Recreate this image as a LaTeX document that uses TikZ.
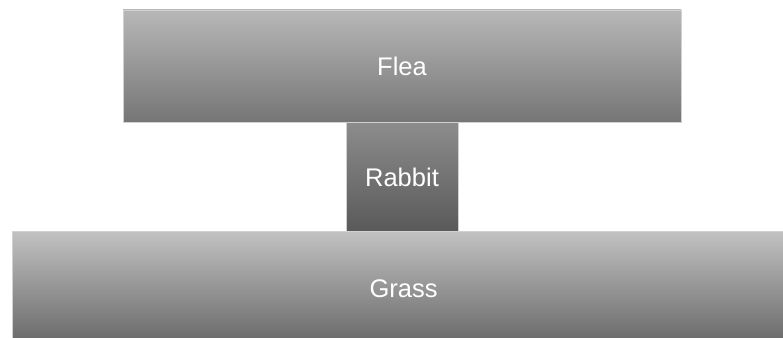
\documentclass[tikz,border=0pt]{standalone}
\usepackage{fontspec}
\setmainfont{Liberation Sans}
\begin{document}
\begin{tikzpicture}[x=1pt,y=-1pt,
  tier/.style={rectangle, draw=black!18, line width=0.8pt, inner sep=0pt,
     text=white, font=\fontsize{25.5}{30}\selectfont, anchor=center}]
\useasboundingbox (0,0) rectangle (783,337);
\clip (0,0) rectangle (783,337);
\node[tier, minimum width=558pt, minimum height=112pt,
  top color=black!28, bottom color=black!54] (flea) at (402,66) {Flea};
\node[tier, minimum width=112pt, minimum height=110pt,
  top color=black!45, bottom color=black!65] (rabbit) at (402,177) {Rabbit};
\node[tier, minimum width=783pt, minimum height=116pt,
  top color=black!24, bottom color=black!60] (grass) at (403.5,289) {Grass};
\end{tikzpicture}
\end{document}
